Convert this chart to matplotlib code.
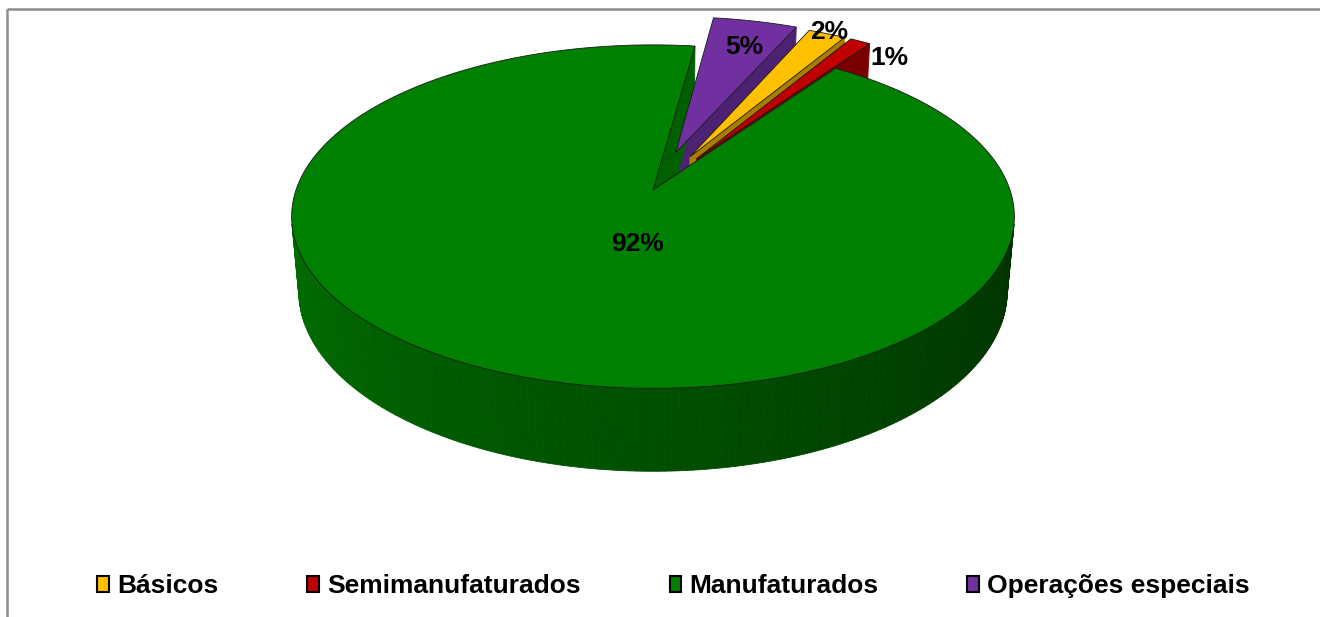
import numpy as np
import matplotlib
matplotlib.use("Agg")
import matplotlib.pyplot as plt
from matplotlib.patches import Polygon, Patch

plt.rcParams['font.family'] = ['Liberation Sans', 'DejaVu Sans']

# data
categorias = ['Básicos', 'Semimanufaturados', 'Manufaturados', 'Operações especiais']
valores = [2.0, 1.1, 92.4, 4.5]
rotulos = ['2%', '1%', '92%', '5%']

# styles
cores = ['#FFC000', '#C00000', '#008000', '#7030A0']
cores_lado = ['#A87E00', '#7A0000', '#006000', '#4E2272']
explode = [0.23, 0.23, 0.0, 0.24]
# label position: (radius, angle offset from the slice middle, deg)
pos_rotulo = [(1.25, 0.0), (1.17, -7.0), (0.31, 13.6), (1.03, -0.8)]
start_angle = 66.0   # excel-like, slices go clockwise

# camera for the 3d look (pixel space)
cx, cy = 653, 190
phi = np.radians(28)
D = 5.7
f = 2035
T = 0.24


def proj(X, Y, Z):
    yc = Y * np.sin(phi) + Z * np.cos(phi)
    zc = Y * np.cos(phi) - Z * np.sin(phi) + D
    return cx + f * X / zc, cy - f * yc / zc, zc


def area(pts):
    pts = np.asarray(pts)
    x, y = pts[:, 0], pts[:, 1]
    return 0.5 * np.sum(x * np.roll(y, -1) - np.roll(x, -1) * y)


def shade(rgb, th):
    th = th % 360
    k = np.interp(th, [190, 350], [0.86, 0.375])
    return tuple(np.clip(np.array(rgb) * k, 0, 1))


fig = plt.figure(figsize=(13.2, 6.17), dpi=100)
ax = fig.add_axes([0, 0, 1, 1])
ax.set_xlim(0, 1320)
ax.set_ylim(617, 0)
ax.axis('off')

walls = []
tops = []
labels = []
a = start_angle
for i, v in enumerate(valores):
    hi = a
    lo = a - v * 3.6
    a = lo
    mid = np.radians((lo + hi) / 2)
    ox, oy = explode[i] * np.cos(mid), explode[i] * np.sin(mid)
    n = max(3, int((hi - lo) / 1.0) + 1)
    ths = np.linspace(lo, hi, n)
    px = ox + np.cos(np.radians(ths))
    py = oy + np.sin(np.radians(ths))
    base = matplotlib.colors.to_rgb(cores[i])

    # outer wall, only the part facing us
    for j in range(n - 1):
        t0 = proj(px[j], py[j], 0)
        t1 = proj(px[j + 1], py[j + 1], 0)
        b1 = proj(px[j + 1], py[j + 1], -T)
        b0 = proj(px[j], py[j], -T)
        q = [t0[:2], t1[:2], b1[:2], b0[:2]]
        if area(q) > 0:
            d = (t0[2] + t1[2] + b0[2] + b1[2]) / 4
            walls.append((d, q, shade(base, (ths[j] + ths[j + 1]) / 2)))

    # radial walls
    apex_t = proj(ox, oy, 0)
    apex_b = proj(ox, oy, -T)
    lo_t = proj(px[0], py[0], 0)
    lo_b = proj(px[0], py[0], -T)
    hi_t = proj(px[-1], py[-1], 0)
    hi_b = proj(px[-1], py[-1], -T)
    for q3 in ([apex_t, lo_t, lo_b, apex_b], [hi_t, apex_t, apex_b, hi_b]):
        q = [p[:2] for p in q3]
        if area(q) > 0:
            d = sum(p[2] for p in q3) / 4
            walls.append((d, q, cores_lado[i]))

    # top face
    top = [apex_t[:2]] + [proj(px[j], py[j], 0)[:2] for j in range(n)]
    tops.append((top, cores[i]))

    r, dth = pos_rotulo[i]
    la = mid + np.radians(dth)
    lx, ly, _ = proj(r * np.cos(la), r * np.sin(la), 0)
    labels.append((lx, ly, rotulos[i]))

# far walls first
walls.sort(key=lambda w: -w[0])
for d, q, c in walls:
    ax.add_patch(Polygon(q, closed=True, facecolor=c, edgecolor=c, lw=0.6))

for top, c in tops:
    ax.add_patch(Polygon(top, closed=True, facecolor=c, edgecolor='#1a1a1a', lw=0.6))

for lx, ly, t in labels:
    ax.text(lx, ly, t, fontsize=19, fontweight='bold', ha='center', va='center')

# chart border (only top and left fall inside the picture)
ax.plot([7, 1320], [9, 9], color='#8c8c8c', lw=1.8, solid_capstyle='butt')
ax.plot([7, 7], [9, 617], color='#8c8c8c', lw=1.8, solid_capstyle='butt')

handles = [Patch(facecolor=cores[i], edgecolor='black', lw=1.5, label=categorias[i]) for i in range(4)]
fig.legend(handles=handles, loc='center', bbox_to_anchor=(673.5 / 1320, 1 - 586 / 617), ncol=4,
           frameon=False, prop=dict(weight='bold', size=19), handlelength=0.45, handleheight=0.55,
           handletextpad=0.3, columnspacing=3.37)

fig.savefig('out.png', dpi=100)
